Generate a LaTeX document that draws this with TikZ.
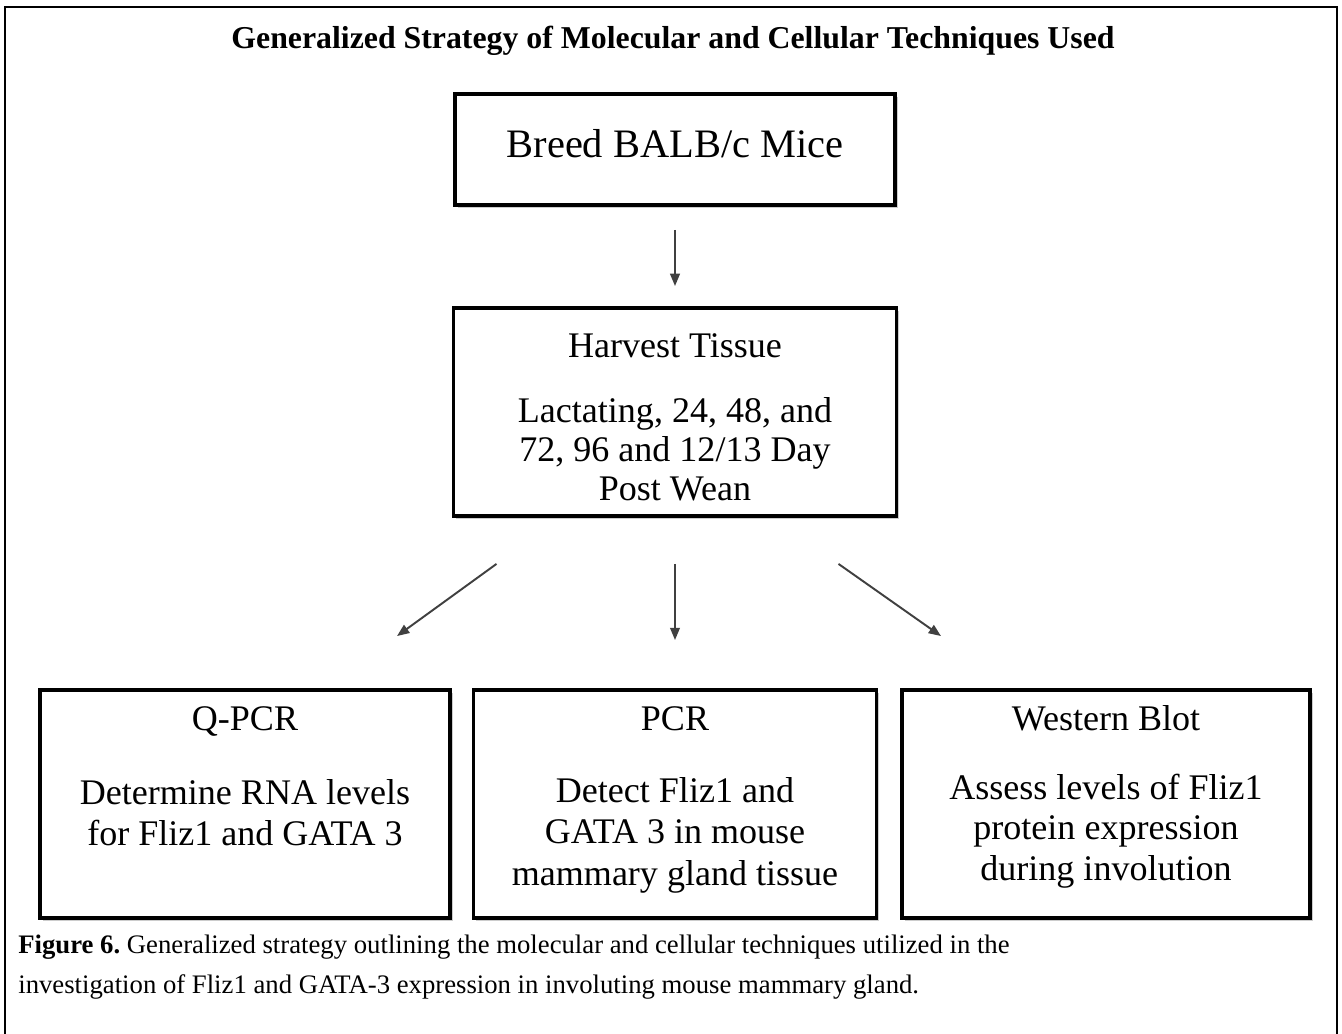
\documentclass[tikz,border=0pt]{standalone}
\usepackage{fontspec}
\setmainfont{Liberation Serif}
\usepackage{tikz}
\usetikzlibrary{arrows.meta,calc,shadows}
\frenchspacing

\begin{document}
\begin{tikzpicture}[stepbox/.style={draw, line width=2.2pt, fill=white, inner sep=0pt, drop shadow={shadow xshift=1.5pt, shadow yshift=-1.5pt, fill=black!40}}, txt/.style={anchor=base, inner sep=0pt, align=center, font=\fontsize{20.5}{21.6}\selectfont}]
\useasboundingbox (0,0) rectangle (26.84,20.68);
\clip (0,0) rectangle (26.84,20.68);
\draw[line width=1.6pt] (0.1,-1) -- (0.1,20.54) -- (26.74,20.54) -- (26.74,-1);

\node(title)[anchor=base, inner sep=0pt, font=\bfseries\fontsize{18.1}{20}\selectfont] at (13.46,19.7) {Generalized Strategy of Molecular and Cellular Techniques Used};

\node(breed)[stepbox, minimum width=8.8cm, minimum height=2.22cm] at (13.5,17.69) {};
\node(harvest)[stepbox, minimum width=8.86cm, minimum height=4.16cm] at (13.5,12.44) {};
\node(qpcr)[stepbox, minimum width=8.2cm, minimum height=4.56cm] at (4.9,4.6) {};
\node(pcr)[stepbox, minimum width=8.06cm, minimum height=4.56cm] at (13.5,4.6) {};
\node(wb)[stepbox, minimum width=8.16cm, minimum height=4.56cm] at (22.12,4.6) {};

% multi-line texts sit on the baseline of their last line
\node(breedT)[txt, font=\fontsize{23}{25}\selectfont] at ($(breed.center)-(0,0.17)$) {Breed BALB/c Mice};
\node(harvestT)[txt] at ($(harvest.north)-(0,1.02)$) {Harvest Tissue};
\node(harvestB)[txt, font=\fontsize{20.5}{22}\selectfont] at ($(harvest.north)-(0,3.88)$) {Lactating, 24, 48, and\\72, 96 and 12/13 Day\\Post Wean};

\node(qpcrT)[txt] at ($(qpcr.north)-(0,0.84)$) {Q-PCR};
\node(qpcrB)[txt, font=\fontsize{20.5}{22.8}\selectfont] at ($(qpcr.north)-(0,3.14)$) {Determine RNA levels\\for Fliz1 and GATA 3};
\node(pcrT)[txt] at ($(pcr.north)-(0,0.84)$) {PCR};
\node(pcrB)[txt, font=\fontsize{20.5}{23.6}\selectfont] at ($(pcr.north)-(0,3.94)$) {Detect Fliz1 and\\GATA 3 in mouse\\mammary gland tissue};
\node(wbT)[txt] at ($(wb.north)-(0,0.84)$) {Western Blot};
\node(wbB)[txt, font=\fontsize{20.5}{23}\selectfont] at ($(wb.north)-(0,3.84)$) {Assess levels of Fliz1\\protein expression\\during involution};

\begin{scope}[-{Triangle[length=7pt,width=5.5pt]}, line width=1.1pt, color=black!75]
\draw[shorten <=0.46cm, shorten >=0.4cm] (breed) -- (harvest);
\draw ([shift={(-3.57,-0.92)}]harvest.south) -- ([shift={(3.04,1.04)}]qpcr.north);
\draw ([yshift=-0.92cm]harvest.south) -- ([yshift=0.96cm]pcr.north);
\draw ([shift={(3.27,-0.92)}]harvest.south) -- ([shift={(-3.3,1.04)}]wb.north);
\end{scope}

\node(cap)[anchor=base west, align=left, inner sep=0pt, font=\fontsize{15.2}{22.8}\selectfont] at (0.36,0.8) {\textbf{Figure 6.} Generalized strategy outlining the molecular and cellular techniques utilized in the\\investigation of Fliz1 and GATA-3 expression in involuting mouse mammary gland.};
\end{tikzpicture}
\end{document}
